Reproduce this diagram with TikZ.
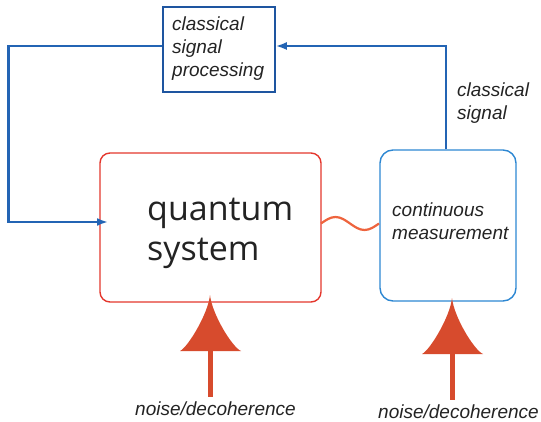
\documentclass[tikz,border=0pt]{standalone}
\usepackage{fontspec}
\setmainfont{Liberation Sans}
\newfontfamily\qsysfont{Open Sans}
\usetikzlibrary{arrows.meta}

\definecolor{sigblue}{RGB}{35,100,180}
\definecolor{procblue}{RGB}{30,85,160}
\definecolor{measblue}{RGB}{45,135,210}
\definecolor{qsysred}{RGB}{228,55,45}
\definecolor{couplered}{RGB}{238,100,62}
\definecolor{noisered}{RGB}{215,75,45}
\definecolor{labelgray}{RGB}{35,35,35}

\tikzset{
  lbl/.style={font=\fontsize{19}{23}\selectfont\itshape, text=labelgray, align=left, inner sep=0pt},
  sigline/.style={draw=sigblue, line width=2.6pt, -{Latex[length=11pt,width=8pt]}},
  noisearrow/.pic={
    \fill[noisered] (0,0) .. controls (-2,19) and (-22,52) .. (-30,56) -- (31,56) .. controls (22,52) and (2,19) .. (0,0) -- cycle;
    \fill[noisered] (-2.5,55) rectangle (2.5,102);
  }
}

\begin{document}
\begin{tikzpicture}[x=1pt,y=-1pt]
\useasboundingbox (0,0) rectangle (541,422);

%Shape: boxes
\node[draw=procblue, line width=1.5pt, minimum width=112pt, minimum height=85pt] (proc) at (219,49.5) {};
\node[draw=qsysred, line width=1.4pt, rounded corners=10pt, minimum width=221pt, minimum height=149pt] (qsys) at (210.5,227.5) {};
\node[draw=measblue, line width=1.4pt, rounded corners=13pt, minimum width=136pt, minimum height=151pt] (meas) at (448,225.5) {};

% Text Node (base = last line)
\node[lbl, anchor=base west] (proctext) at (172,77) {classical\\signal\\processing};
\node[anchor=base west, inner sep=0pt, align=left, text=labelgray, font=\qsysfont\fontsize{34}{40}\selectfont] (qsystext) at (147,261) {quantum\\system};
\node[lbl, anchor=base west] (meastext) at (392,240) {continuous\\measurement};
\node[lbl, anchor=base west] (sigtext) at (457,120) {classical\\signal};
\node[lbl, anchor=base west] (noisetextL) at (135,415) {noise/decoherence};
\node[lbl, anchor=base west] (noisetextR) at (378,418) {noise/decoherence};

%Straight Lines: feedback loop
\coordinate (fbin) at (108,222);
\draw[sigline] ([yshift=3.5pt]proc.west) -- ++(-154,0) |- (fbin);
\draw[sigline] ([xshift=-2pt]meas.north) |- ([yshift=3.5pt]proc.east);

%Curve: coupling
\coordinate (cplL) at (321,223.5);
\coordinate (cplR) at (379,223.5);
\draw[couplered, line width=2.2pt] (cplL) sin (335.5,217) cos (350,223.5) sin (364.5,230) cos (cplR);

%Shape: noise arrows
\pic at (210,295) {noisearrow};
\pic at (452,298) {noisearrow};
\end{tikzpicture}
\end{document}
